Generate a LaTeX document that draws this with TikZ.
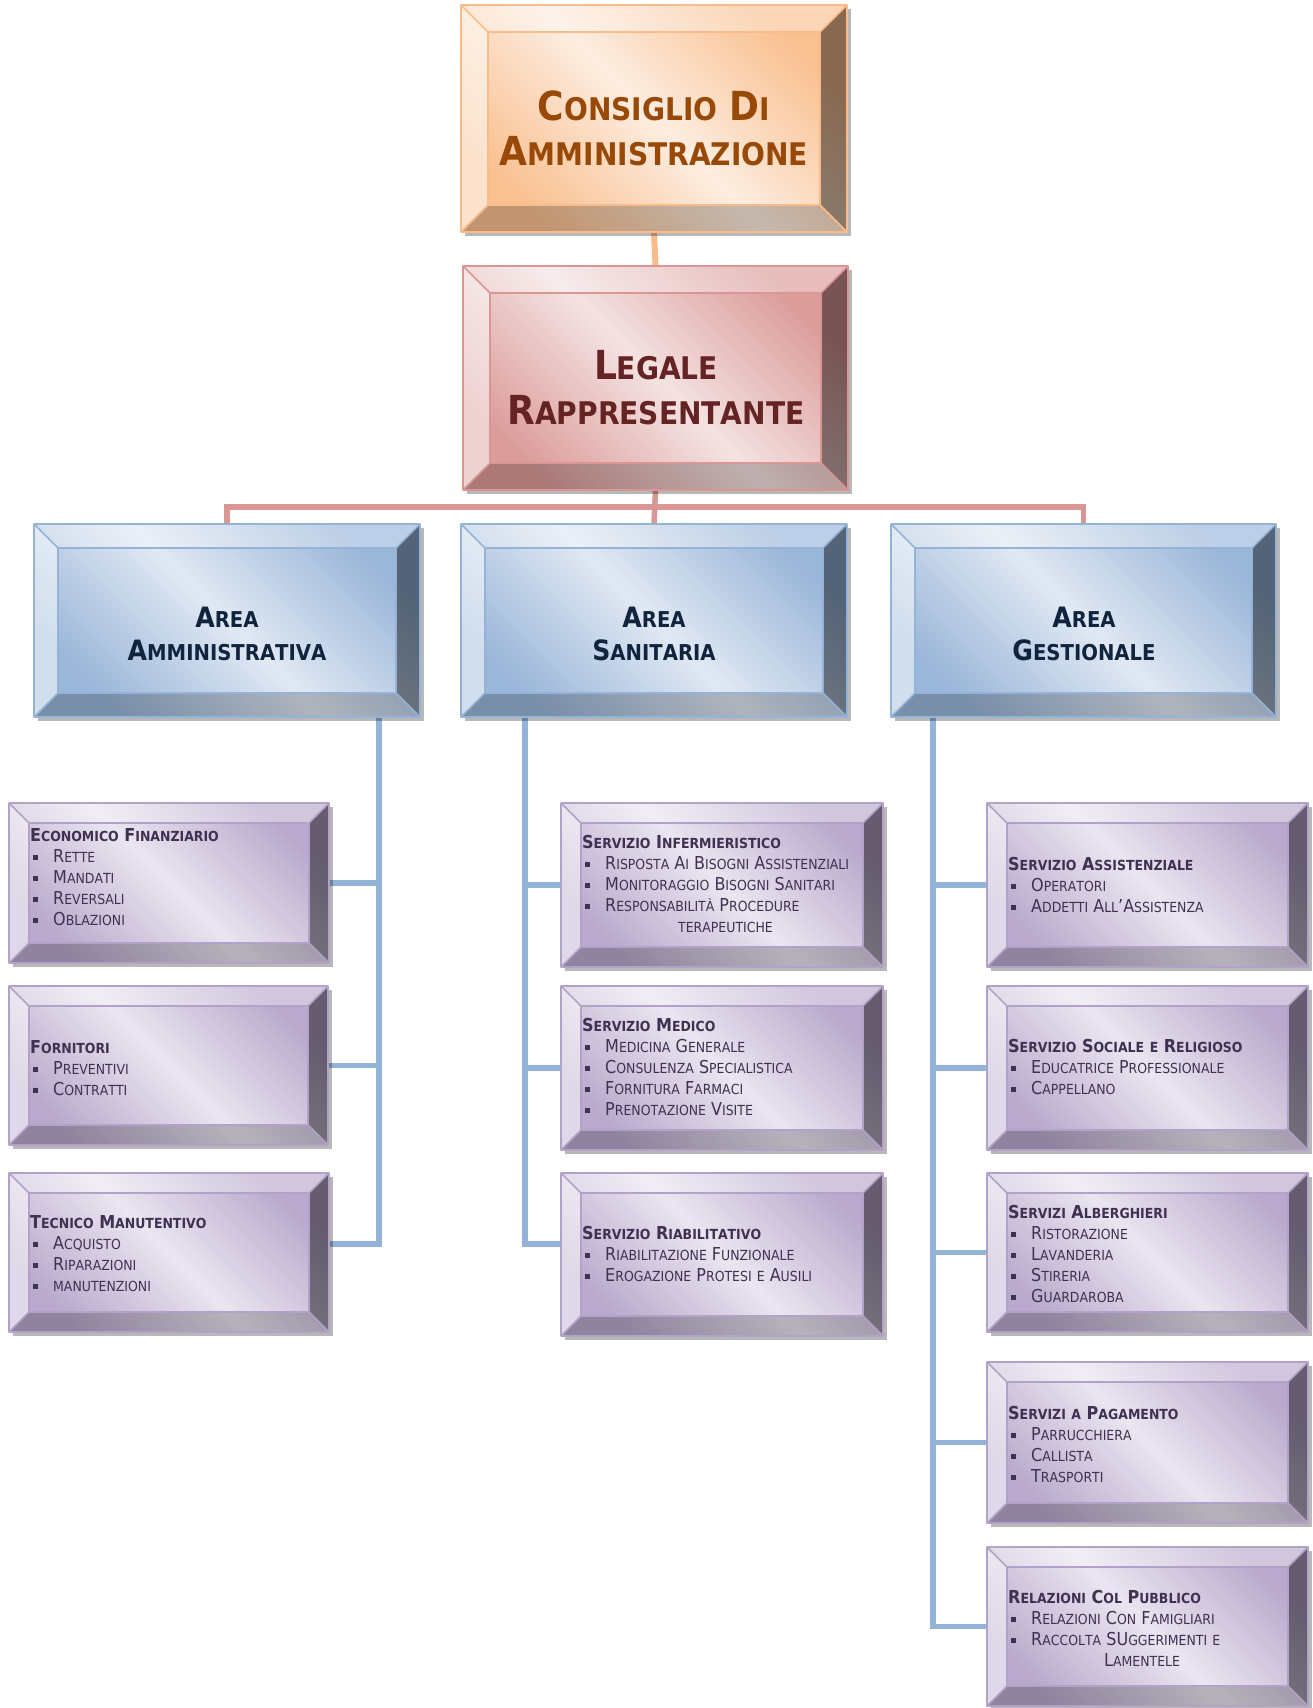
\documentclass[tikz,border=0pt]{standalone}
\usepackage{fontspec}
\setmainfont{DejaVu Sans Condensed}
\usepackage{graphicx}
\usetikzlibrary{calc}
\pgfdeclarelayer{bg}
\pgfsetlayers{bg,main}

\definecolor{orA}{HTML}{FDEDE0}
\definecolor{orB}{HTML}{F9C090}
\definecolor{orL}{HTML}{F8BC8C}
\definecolor{orT}{HTML}{984807}
\definecolor{rdA}{HTML}{F4E2E2}
\definecolor{rdB}{HTML}{DB9C9A}
\definecolor{rdL}{HTML}{D99694}
\definecolor{rdT}{HTML}{632423}
\definecolor{blA}{HTML}{E0E8F3}
\definecolor{blB}{HTML}{9AB6D9}
\definecolor{blL}{HTML}{95B3D7}
\definecolor{blT}{HTML}{10243E}
\definecolor{puA}{HTML}{EAE5F0}
\definecolor{puB}{HTML}{B9A9CC}
\definecolor{puL}{HTML}{B3A2C7}
\definecolor{puT}{HTML}{3F3151}

\makeatletter
\def\SCr{0.78}
\newcommand\SC[1]{\SC@w#1 \@nil}
\def\SC@w#1 #2\@nil{\SC@c#1\@empty\@nil\ifx\@empty#2\@empty\else\ \SC@w#2\@nil\fi}
\def\SC@c#1{\ifx\@empty#1\expandafter\SC@stop\else\SC@one{#1}\expandafter\SC@c\fi}
\def\SC@stop#1\@nil{}
\def\SC@one#1{\ifnum\lccode`#1=`#1\relax\scalebox{\SCr}{\uppercase{#1}}\else#1\fi}
\makeatother

\newcommand\itm[1]{\makebox[23pt][l]{\hspace{3pt}\raisebox{2.5pt}{\rule{4.5pt}{4.5pt}}}\SC{#1}}
\newcommand\ttl[1]{{\bfseries\SC{#1}}}

\tikzset{
  boxnode/.style={inner sep=0pt, outer sep=0pt, anchor=north west, rectangle},
  bigtext/.style={align=center, inner sep=0pt, font=\fontsize{40}{45}\selectfont\bfseries},
  areatext/.style={align=center, inner sep=0pt, text=blT, font=\fontsize{28}{32.5}\selectfont\bfseries},
  smalltext/.style={align=left, anchor=north west, inner sep=0pt, text=puT, font=\fontsize{17.8}{21}\selectfont},
  oline/.style={draw=orL, line width=6},
  rline/.style={draw=rdL, line width=5.5},
  bline/.style={draw=blL, line width=5.5},
}

\newcommand\bevbox[7]{%
  \node[boxnode, minimum width={(#4-#2)*1pt}, minimum height={(#5-#3)*1pt}] (#1) at (#2,#3) {};
  \fill[black,opacity=.28] (#2+4,#3+4) rectangle (#4+4,#5+4);
  \shade[top color=#7B, bottom color=#7B, middle color=#7A, shading angle=-45] (#2,#3) rectangle (#4,#5);
  \fill[white,opacity=.55] (#2,#3) -- (#2+#6,#3+#6) -- (#2+#6,#5-#6) -- (#2,#5) -- cycle;
  \fill[white,opacity=.35] (#2,#3) -- (#4,#3) -- (#4-#6,#3+#6) -- (#2+#6,#3+#6) -- cycle;
  \fill[black,opacity=.45] (#4,#3) -- (#4,#5) -- (#4-#6,#5-#6) -- (#4-#6,#3+#6) -- cycle;
  \fill[black,opacity=.22] (#2,#5) -- (#4,#5) -- (#4-#6,#5-#6) -- (#2+#6,#5-#6) -- cycle;
  \draw[#7L, line width=1.6, line join=round] (#2,#3) rectangle (#4,#5) (#2+#6,#3+#6) rectangle (#4-#6,#5-#6)
     (#2,#3) -- (#2+#6,#3+#6) (#4,#3) -- (#4-#6,#3+#6) (#4,#5) -- (#4-#6,#5-#6) (#2,#5) -- (#2+#6,#5-#6);
}

\begin{document}
\begin{tikzpicture}[x=1pt,y=-1pt]
\useasboundingbox (0,0) rectangle (1312,1708);

% top levels
\bevbox{cda}{461}{5}{847}{232}{27}{or}
\node[bigtext, text=orT] (cdat) at (654,128) {\SC{Consiglio Di}\\\SC{Amministrazione}};
\bevbox{leg}{463}{266}{848}{490}{27}{rd}
\node[bigtext, text=rdT] (legt) at (656,388) {\SC{Legale}\\\SC{Rappresentante}};

% areas
\bevbox{amm}{34}{524}{420}{717}{24}{bl}
\node[areatext] (ammt) at (227,634) {\SC{Area}\\\SC{Amministrativa}};
\bevbox{san}{461}{524}{847}{717}{24}{bl}
\node[areatext] (sant) at (654,634) {\SC{Area}\\\SC{Sanitaria}};
\bevbox{ges}{891}{524}{1276}{717}{24}{bl}
\node[areatext] (gest) at (1084,634) {\SC{Area}\\\SC{Gestionale}};

% left column
\bevbox{econ}{9}{803}{329}{963}{20}{pu}
\node[smalltext] (econt) at (30,828) {\ttl{Economico Finanziario}\\\itm{Rette}\\\itm{Mandati}\\\itm{Reversali}\\\itm{Oblazioni}};
\bevbox{forn}{9}{986}{328}{1145}{20}{pu}
\node[smalltext] (fornt) at (30,1040) {\ttl{Fornitori}\\\itm{Preventivi}\\\itm{Contratti}};
\bevbox{tec}{9}{1173}{329}{1332}{20}{pu}
\node[smalltext] (tect) at (30,1215) {\ttl{Tecnico Manutentivo}\\\itm{Acquisto}\\\itm{Riparazioni}\\\itm{manutenzioni}};

% middle column
\bevbox{inf}{561}{803}{883}{967}{20}{pu}
\node[smalltext] (inft) at (582,835) {\ttl{Servizio Infermieristico}\\\itm{Risposta Ai Bisogni Assistenziali}\\\itm{Monitoraggio Bisogni Sanitari}\\\itm{Responsabilità Procedure}\\\hspace*{96pt}\SC{terapeutiche}};
\bevbox{med}{561}{986}{883}{1150}{20}{pu}
\node[smalltext] (medt) at (582,1018) {\ttl{Servizio Medico}\\\itm{Medicina Generale}\\\itm{Consulenza Specialistica}\\\itm{Fornitura Farmaci}\\\itm{Prenotazione Visite}};
\bevbox{riab}{561}{1173}{883}{1336}{20}{pu}
\node[smalltext] (riabt) at (582,1226) {\ttl{Servizio Riabilitativo}\\\itm{Riabilitazione Funzionale}\\\itm{Erogazione Protesi e Ausili}};

% right column
\bevbox{ass}{987}{803}{1308}{967}{20}{pu}
\node[smalltext] (asst) at (1008,857) {\ttl{Servizio Assistenziale}\\\itm{Operatori}\\\itm{Addetti All’Assistenza}};
\bevbox{soc}{987}{986}{1308}{1150}{20}{pu}
\node[smalltext] (soct) at (1008,1039) {\ttl{Servizio Sociale e Religioso}\\\itm{Educatrice Professionale}\\\itm{Cappellano}};
\bevbox{alb}{987}{1173}{1308}{1332}{20}{pu}
\node[smalltext] (albt) at (1008,1205) {\ttl{Servizi Alberghieri}\\\itm{Ristorazione}\\\itm{Lavanderia}\\\itm{Stireria}\\\itm{Guardaroba}};
\bevbox{pag}{987}{1362}{1308}{1523}{20}{pu}
\node[smalltext] (pagt) at (1008,1406) {\ttl{Servizi a Pagamento}\\\itm{Parrucchiera}\\\itm{Callista}\\\itm{Trasporti}};
\bevbox{rel}{987}{1547}{1308}{1706}{20}{pu}
\node[smalltext] (relt) at (1008,1590) {\ttl{Relazioni Col Pubblico}\\\itm{Relazioni Con Famigliari}\\\itm{Raccolta SUggerimenti e}\\\hspace*{96pt}\SC{Lamentele}};

% connectors
\coordinate (bus) at (0,507);
\coordinate (tA) at (379,0);
\coordinate (tS) at (525,0);
\coordinate (tG) at (933,0);
\coordinate (lowA) at (0,1244);
\begin{pgfonlayer}{bg}
\draw[oline] (cda.south) -- (leg.north);
\draw[rline] (leg.south) -- (san.north);
\draw[rline] (amm.north) -- (amm.north |- bus) -- (ges.north |- bus) -- (ges.north);
\draw[bline] (amm.south -| tA) -- (tA |- lowA) -- (tec.east |- lowA);
\draw[bline] (econ.east) -- (econ.east -| tA);
\draw[bline] (forn.east) -- (forn.east -| tA);
\draw[bline] (san.south -| tS) -- (tS |- lowA) -- (riab.west |- lowA);
\draw[bline] (inf.west) -- (inf.west -| tS);
\draw[bline] (med.west) -- (med.west -| tS);
\draw[bline] (ges.south -| tG) |- (rel.west);
\draw[bline] (ass.west) -- (ass.west -| tG);
\draw[bline] (soc.west) -- (soc.west -| tG);
\draw[bline] (alb.west) -- (alb.west -| tG);
\draw[bline] (pag.west) -- (pag.west -| tG);
\end{pgfonlayer}
\end{tikzpicture}
\end{document}
